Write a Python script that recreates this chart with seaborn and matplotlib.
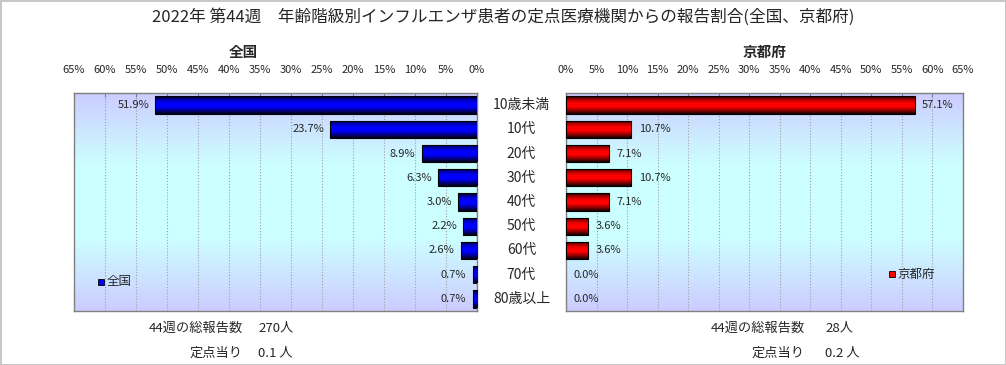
import numpy as np
import pandas as pd
import matplotlib
matplotlib.use('Agg')
import matplotlib.pyplot as plt
import seaborn as sns
from matplotlib.colors import LinearSegmentedColormap

sns.set_style('white')
plt.rcParams['font.family'] = ['Noto Sans CJK JP', 'DejaVu Sans']

# データ
ages = ['10歳未満', '10代', '20代', '30代', '40代', '50代', '60代', '70代', '80歳以上']
zenkoku = [51.9, 23.7, 8.9, 6.3, 3.0, 2.2, 2.6, 0.7, 0.7]
kyoto = [57.1, 10.7, 7.1, 10.7, 7.1, 3.6, 3.6, 0.0, 0.0]
ticks = list(range(0, 70, 5))

df = pd.DataFrame({'age': ages, '全国': zenkoku, '京都府': kyoto})

fig = plt.figure(figsize=(10.06, 3.65), dpi=100)
fig.patch.set_edgecolor('#c8c8c8')
fig.patch.set_linewidth(2)

W, H = 1006, 365
ax1 = fig.add_axes([74 / W, 1 - 311 / H, (477 - 74) / W, (311 - 93) / H])
ax2 = fig.add_axes([566 / W, 1 - 311 / H, (963 - 566) / W, (311 - 93) / H])

bg = LinearSegmentedColormap.from_list('bg', ['#ccccff', '#ccffff', '#ccffff', '#ccccff'])
blue_cm = LinearSegmentedColormap.from_list('b', ['#000010', '#0000b0', '#0000ff', '#0000ff', '#000090', '#000010'])
red_cm = LinearSegmentedColormap.from_list('r', ['#100000', '#b00000', '#ff0000', '#ff0000', '#900000', '#100000'])


def draw(ax, col, cmap, leg_color, left):
    sns.barplot(data=df, x=col, y='age', ax=ax, color=leg_color, width=0.72,
                edgecolor='black', linewidth=0.8, zorder=3)
    # 背景のグラデーション
    grad = np.linspace(0, 1, 256).reshape(-1, 1)
    ax.imshow(grad, cmap=bg, aspect='auto', extent=[0, 1, 0, 1],
              transform=ax.transAxes, zorder=0)
    # 棒のグラデーション
    for p in ax.patches:
        x0, y0 = p.get_x(), p.get_y()
        w, h = p.get_width(), p.get_height()
        if w <= 0:
            p.set_visible(False)
            continue
        im = ax.imshow(grad, cmap=cmap, aspect='auto',
                       extent=[x0, x0 + w, y0 + h, y0], zorder=3.5)
        im.set_clip_path(p)
        p.set_facecolor('none')
        p.set_zorder(4)
    if left:
        ax.set_xlim(65, 0)
    else:
        ax.set_xlim(0, 65)
    ax.set_ylim(len(ages) - 0.5, -0.5)
    for i, v in enumerate(df[col]):
        if left:
            ax.text(v + 1.0, i, f'{v:.1f}%', ha='right', va='center', fontsize=8, zorder=5)
        else:
            ax.text(v + 1.2, i, f'{v:.1f}%', ha='left', va='center', fontsize=8, zorder=5)
    ax.set_xticks(ticks)
    ax.set_xticklabels([f'{t}%' for t in ticks], fontsize=8)
    ax.xaxis.tick_top()
    ax.tick_params(axis='x', direction='in', length=3, pad=13, color='#808080')
    ax.set_yticks([])
    ax.set_xlabel('')
    ax.set_ylabel('')
    ax.grid(axis='x', color='#a0a0a0', linestyle=':', linewidth=0.8, zorder=1)
    ax.set_axisbelow(True)
    for s in ax.spines.values():
        s.set_color('#808080')
        s.set_linewidth(1)


draw(ax1, '全国', blue_cm, '#0000ff', True)
draw(ax2, '京都府', red_cm, '#ff0000', False)

# 年齢ラベル (両グラフの間)
for i, a in enumerate(ages):
    ax1.annotate(a, xy=(0, i), xycoords='data', xytext=(32, 0),
                 textcoords='offset points', ha='center', va='center', fontsize=10)

# 凡例
ax1.plot([0.068], [0.135], marker='s', markersize=5, color='#0000ff', markeredgecolor='black',
         markeredgewidth=0.6, transform=ax1.transAxes, clip_on=False)
ax1.text(0.08, 0.135, '全国', transform=ax1.transAxes, fontsize=9, va='center', ha='left')
ax2.plot([0.822], [0.17], marker='s', markersize=5, color='#ff0000', markeredgecolor='black',
         markeredgewidth=0.6, transform=ax2.transAxes, clip_on=False)
ax2.text(0.834, 0.17, '京都府', transform=ax2.transAxes, fontsize=9, va='center', ha='left')

fig.text(503 / W, 1 - 17 / H, '2022年 第44週　年齢階級別インフルエンザ患者の定点医療機関からの報告割合(全国、京都府)',
         ha='center', va='center', fontsize=12)
fig.text(243 / W, 1 - 52 / H, '全国', ha='center', va='center', fontsize=10.5, fontweight='bold')
fig.text(765 / W, 1 - 52 / H, '京都府', ha='center', va='center', fontsize=10.5, fontweight='bold')

fig.text(243 / W, 1 - 328 / H, '44週の総報告数', ha='right', va='center', fontsize=9.5)
fig.text(258 / W, 1 - 328 / H, '270人', ha='left', va='center', fontsize=9.5)
fig.text(243 / W, 1 - 353 / H, '定点当り', ha='right', va='center', fontsize=9.5)
fig.text(258 / W, 1 - 353 / H, '0.1 人', ha='left', va='center', fontsize=9.5)
fig.text(805 / W, 1 - 328 / H, '44週の総報告数', ha='right', va='center', fontsize=9.5)
fig.text(825 / W, 1 - 328 / H, '28人', ha='left', va='center', fontsize=9.5)
fig.text(805 / W, 1 - 353 / H, '定点当り', ha='right', va='center', fontsize=9.5)
fig.text(825 / W, 1 - 353 / H, '0.2 人', ha='left', va='center', fontsize=9.5)

fig.savefig('out.png', dpi=100, edgecolor=fig.get_edgecolor())
